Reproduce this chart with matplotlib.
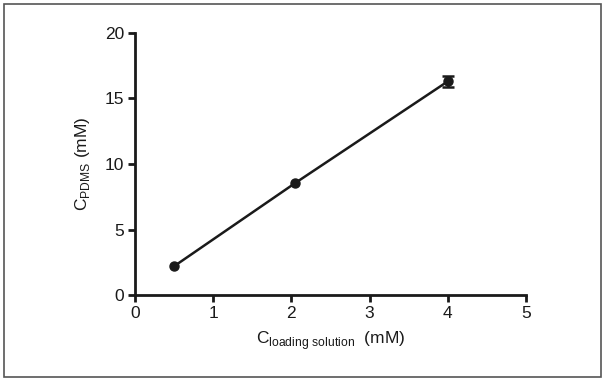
import matplotlib
matplotlib.use("Agg")
import matplotlib.pyplot as plt
from matplotlib.patches import Rectangle

plt.rcParams['font.family'] = ['Liberation Sans', 'DejaVu Sans']

# data
c_loading = [0.5, 2.05, 4.0]
c_pdms = [2.2, 8.55, 16.3]
c_pdms_err = [0.1, 0.15, 0.4]

x_ticks = [0, 1, 2, 3, 4, 5]
y_ticks = [0, 5, 10, 15, 20]

fig = plt.figure(figsize=(6.03, 3.79), dpi=100)
ax = fig.add_axes([0.224, 0.2216, 0.648, 0.6914])

ax.plot(c_loading, c_pdms, 'o-', color='#1a1a1a', ms=6.5, lw=1.8, zorder=3)
# error bars smaller than the symbol are hidden (as in the original)
big = [i for i, e in enumerate(c_pdms_err) if e > 0.3]
ax.errorbar([c_loading[i] for i in big], [c_pdms[i] for i in big],
            yerr=[c_pdms_err[i] for i in big], fmt='none', ecolor='#1a1a1a',
            capsize=4.5, elinewidth=1.8, capthick=1.8, zorder=2)

ax.set_xlim(0, 5)
ax.set_ylim(0, 20)
ax.set_xticks(x_ticks)
ax.set_yticks(y_ticks)
for s in ['top', 'right']:
    ax.spines[s].set_visible(False)
for s in ['left', 'bottom']:
    ax.spines[s].set_linewidth(2)
    ax.spines[s].set_color('#1a1a1a')
ax.tick_params(direction='out', length=5, width=2, color='#1a1a1a',
               labelsize=12.5, pad=3, labelcolor='#1a1a1a')
ax.patch.set_alpha(0)

ax.set_xlabel(r'C$_{\mathregular{loading\ solution}}$  (mM)', fontsize=12.5,
              labelpad=6, color='#1a1a1a')
ax.set_ylabel(r'C$_{\mathregular{PDMS}}$ (mM)', fontsize=12.5, labelpad=9,
              color='#1a1a1a')

# outer frame
fig.patches.append(Rectangle((0.007, 0.005), 0.99, 0.985, transform=fig.transFigure,
                             fill=False, ec='#555555', lw=1.2))

fig.savefig('out.png', dpi=100)
